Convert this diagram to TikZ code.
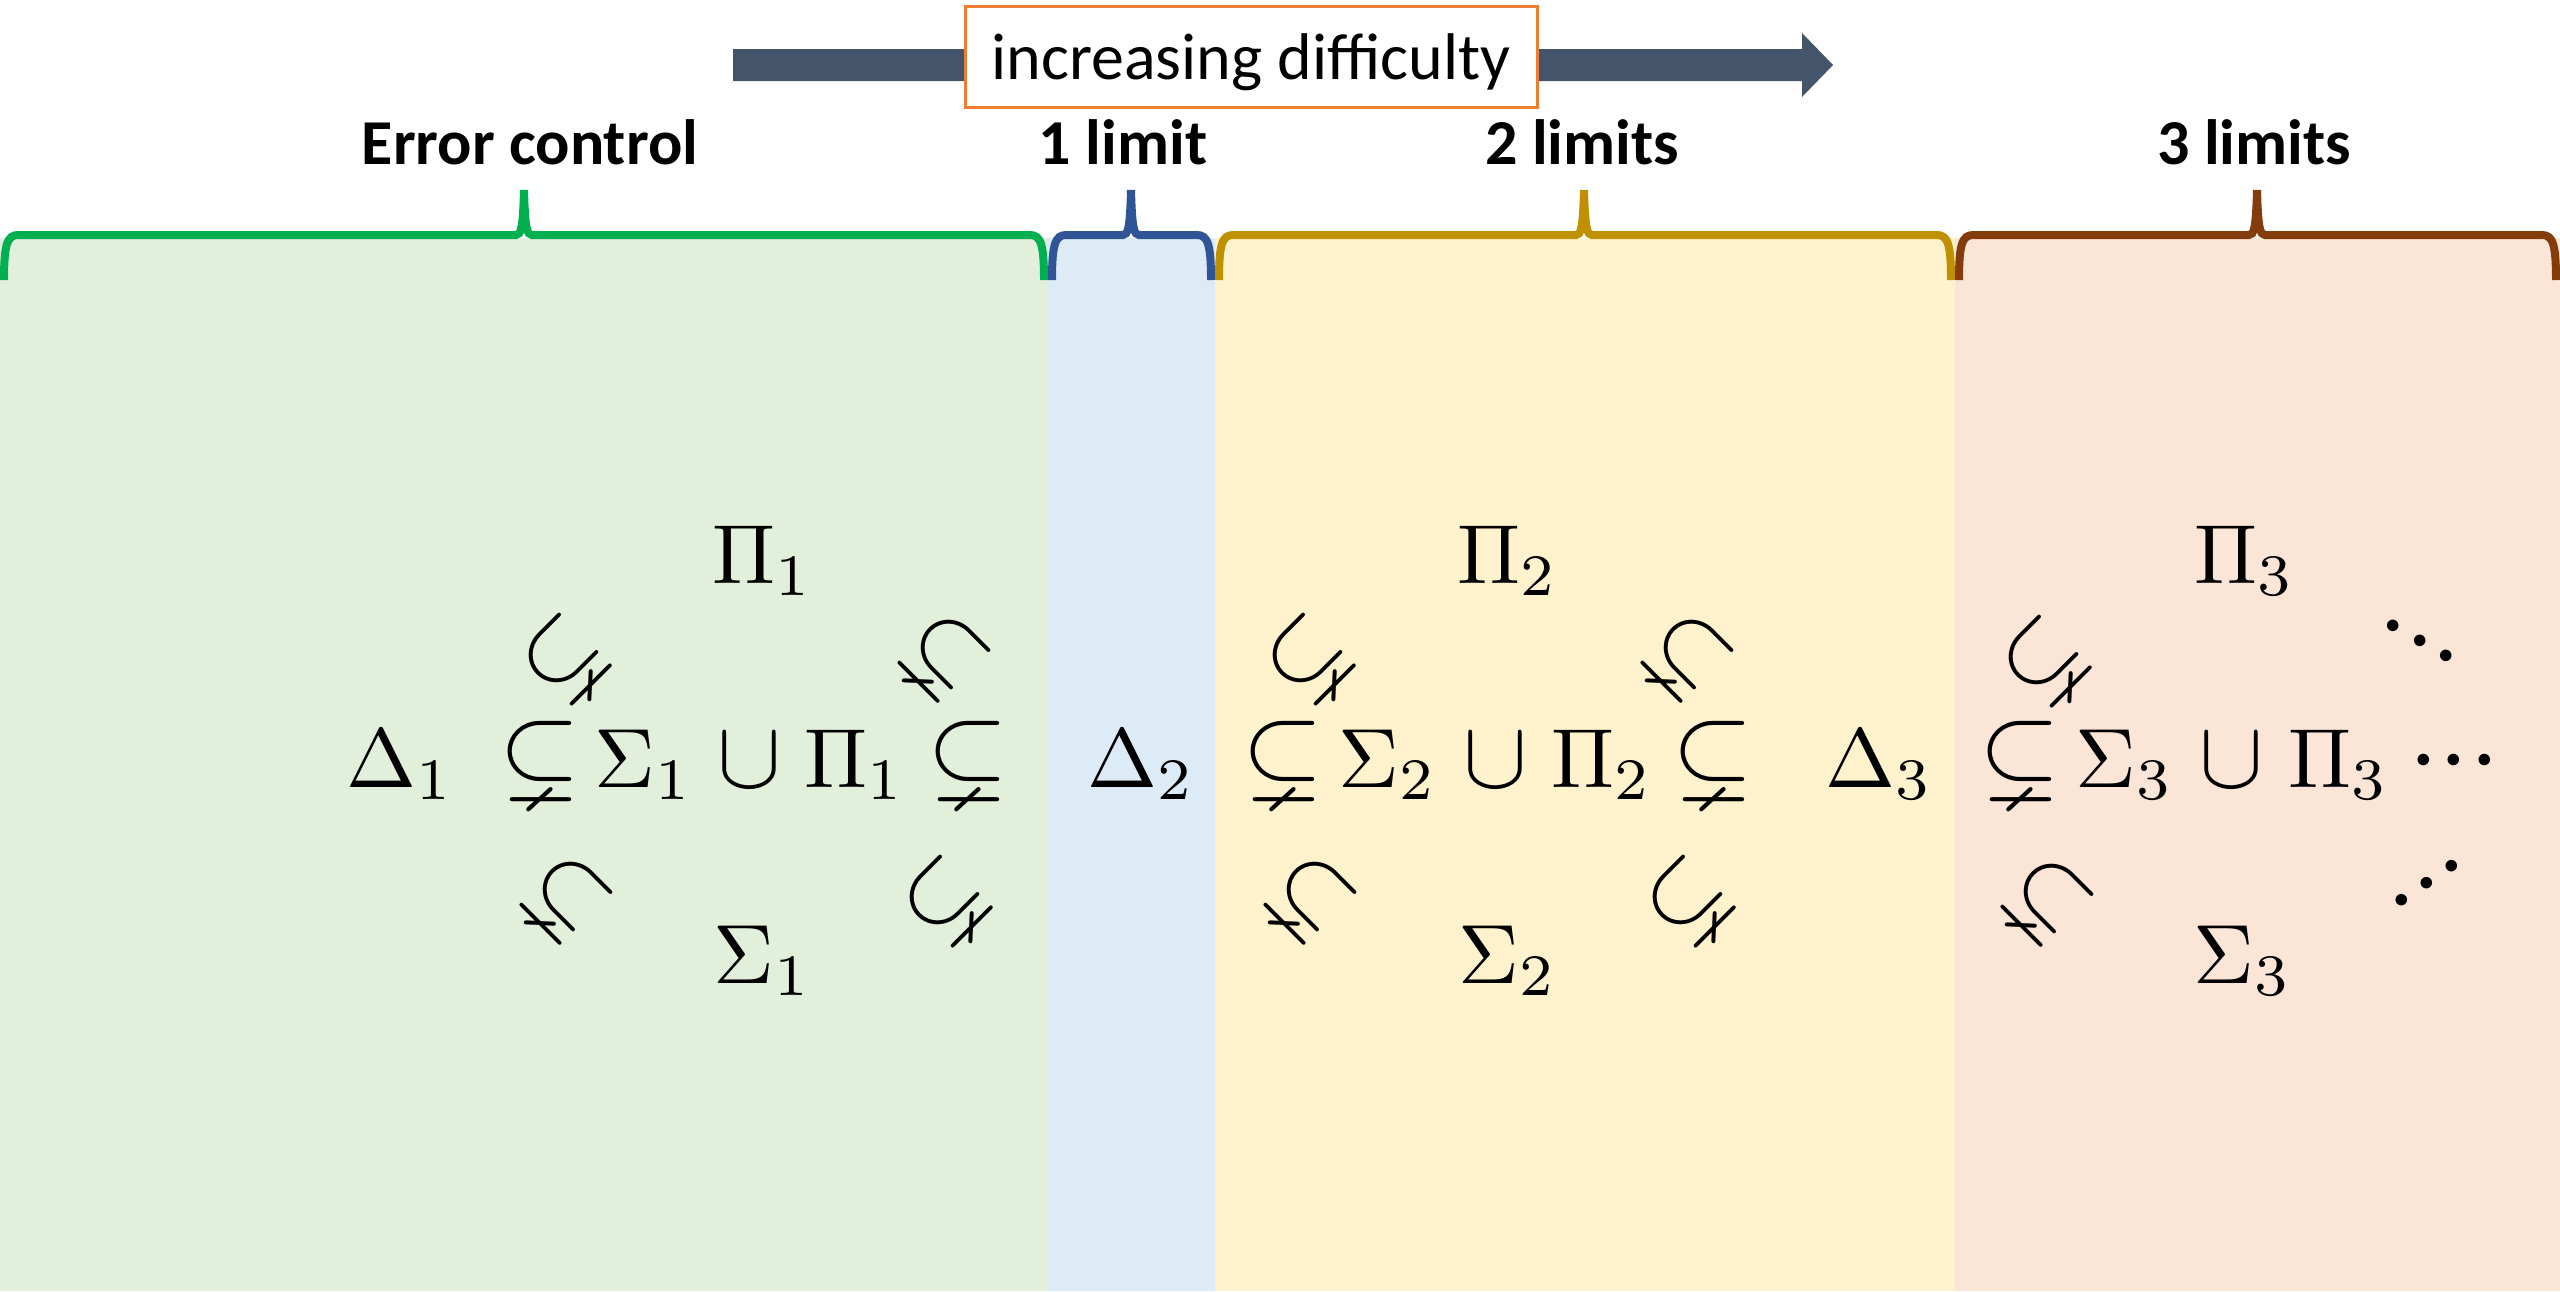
\documentclass[tikz,border=0pt]{standalone}
\usepackage{amssymb}
\usepackage[no-math]{fontspec}
\newfontfamily\calib{Carlito}
\definecolor{gfill}{HTML}{E2EFDA}
\definecolor{bfill}{HTML}{DDEBF7}
\definecolor{yfill}{HTML}{FFF2CC}
\definecolor{pfill}{HTML}{FBE5D6}
\definecolor{gline}{HTML}{00B050}
\definecolor{bline}{HTML}{2F5597}
\definecolor{yline}{HTML}{BF9000}
\definecolor{pline}{HTML}{843C0C}
\definecolor{arrowcol}{HTML}{44546A}
\definecolor{boxorange}{HTML}{ED7D31}
\newcommand{\mymath}[1]{\scalebox{4.2}{$#1$}}
\newcommand{\myrel}[1]{\scalebox{5.2}{$#1$}}
\newcommand{\mycup}[1]{\scalebox{4.8}{$#1$}}
\newcommand{\myrot}[1]{\scalebox{4.9}{$#1$}}
\newcommand{\mydots}{\scalebox{5.5}{$\mathord{\cdot}\mathord{\cdot}\mathord{\cdot}$}}
\newcommand{\mydotsrot}{\raisebox{-13.75pt}[4pt][4pt]{\mydots}}
\newcommand{\drawbrace}[4]{%
\draw[bracestyle,#1] (#2,280) .. controls (#2,245) and ({#2+3},235) .. ({#2+14},235) -- ({#3-8},235) .. controls ({#3-3},235) and ({#3-1},228) .. (#3,190) .. controls ({#3+1},228) and ({#3+3},235) .. ({#3+8},235) -- ({#4-14},235) .. controls ({#4-3},235) and (#4,245) .. (#4,280);}
\begin{document}
\begin{tikzpicture}[x=0.5pt,y=-0.5pt,
  bracestyle/.style={line width=4pt},
  mth/.style={font=\fontsize{10}{12}\selectfont, inner sep=0pt, anchor=base},
  mrot/.style={font=\fontsize{10}{12}\selectfont, inner sep=0pt, anchor=center},
  lab/.style={font=\fontsize{32}{38}\selectfont\calib\bfseries, inner sep=0pt, anchor=base}]
\useasboundingbox (0,0) rectangle (2560,1291);
% panels
\fill[gfill] (0,238) rectangle (1048,1291);
\fill[bfill] (1048,238) rectangle (1215,1291);
\fill[yfill] (1215,238) rectangle (1955,1291);
\fill[pfill] (1955,238) rectangle (2560,1291);
% braces
\drawbrace{gline}{4}{524}{1044}
\drawbrace{bline}{1052}{1131}{1211}
\drawbrace{yline}{1219}{1584}{1951}
\drawbrace{pline}{1959}{2257}{2556}
% labels
\node[lab] (lerr) at (530,164) {Error control};
\node[lab] (l1) at (1123,164) {1 limit};
\node[lab] (l2) at (1582,164) {2 limits};
\node[lab] (l3) at (2254,164) {3 limits};
% arrow
\fill[arrowcol] (733,49) -- (1802,49) -- (1802,33) -- (1833,65) -- (1802,97) -- (1802,81) -- (733,81) -- cycle;
\node[draw=boxorange, line width=1.5pt, fill=white, minimum width=286pt, minimum height=50.5pt, inner sep=0pt, text height=23pt, text depth=0pt, font=\fontsize{33}{40}\selectfont\calib] (diff) at (1251,56.5) {increasing difficulty};
% group 1
\node[mth] (d1) at (400,787) {\mymath{\Delta_1}};
\node[mth] (s1a) at (540,787) {\myrel{\subsetneq}};
\node[mth] (S1) at (644,787) {\mymath{\Sigma_1}};
\node[mth] (u1) at (749,787) {\mycup{\cup}};
\node[mth] (P1) at (855,787) {\mymath{\Pi_1}};
\node[mth] (s1b) at (968,787) {\myrel{\subsetneq}};
\node[mth] (P1t) at (763,583) {\mymath{\Pi_1}};
\node[mth] (S1b) at (763,983) {\mymath{\Sigma_1}};
\node[mrot,rotate=45] (r1a) at (565,660) {\myrot{\subsetneq}};
\node[mrot,rotate=-45] (r1b) at (944,656) {\myrot{\subsetneq}};
\node[mrot,rotate=-45] (r1c) at (566,898) {\myrot{\subsetneq}};
\node[mrot,rotate=45] (r1d) at (946,902) {\myrot{\subsetneq}};
% group 2
\node[mth] (d2) at (1141,787) {\mymath{\Delta_2}};
\node[mth] (s2a) at (1283,787) {\myrel{\subsetneq}};
\node[mth] (S2) at (1388,787) {\mymath{\Sigma_2}};
\node[mth] (u2) at (1495,787) {\mycup{\cup}};
\node[mth] (P2) at (1602,787) {\mymath{\Pi_2}};
\node[mth] (s2b) at (1713,787) {\myrel{\subsetneq}};
\node[mth] (P2t) at (1508,583) {\mymath{\Pi_2}};
\node[mth] (S2b) at (1508,983) {\mymath{\Sigma_2}};
\node[mrot,rotate=45] (r2a) at (1309,660) {\myrot{\subsetneq}};
\node[mrot,rotate=-45] (r2b) at (1687,656) {\myrot{\subsetneq}};
\node[mrot,rotate=-45] (r2c) at (1310,898) {\myrot{\subsetneq}};
\node[mrot,rotate=45] (r2d) at (1689,902) {\myrot{\subsetneq}};
% group 3
\node[mth] (d3) at (1879,787) {\mymath{\Delta_3}};
\node[mth] (s3a) at (2020,787) {\myrel{\subsetneq}};
\node[mth] (S3) at (2125,787) {\mymath{\Sigma_3}};
\node[mth] (u3) at (2231,787) {\mycup{\cup}};
\node[mth] (P3) at (2339,787) {\mymath{\Pi_3}};
\node[mth] (c3) at (2454,787) {\mydots};
\node[mth] (P3t) at (2245,583) {\mymath{\Pi_3}};
\node[mth] (S3b) at (2243,983) {\mymath{\Sigma_3}};
\node[mrot,rotate=45] (r3a) at (2045,662) {\myrot{\subsetneq}};
\node[mrot,rotate=-45] (r3c) at (2047,900) {\myrot{\subsetneq}};
\node[mrot,rotate=-29] (dd3) at (2420,641) {\mydotsrot};
\node[mrot,rotate=34] (ud3) at (2427,883) {\mydotsrot};
\end{tikzpicture}
\end{document}
